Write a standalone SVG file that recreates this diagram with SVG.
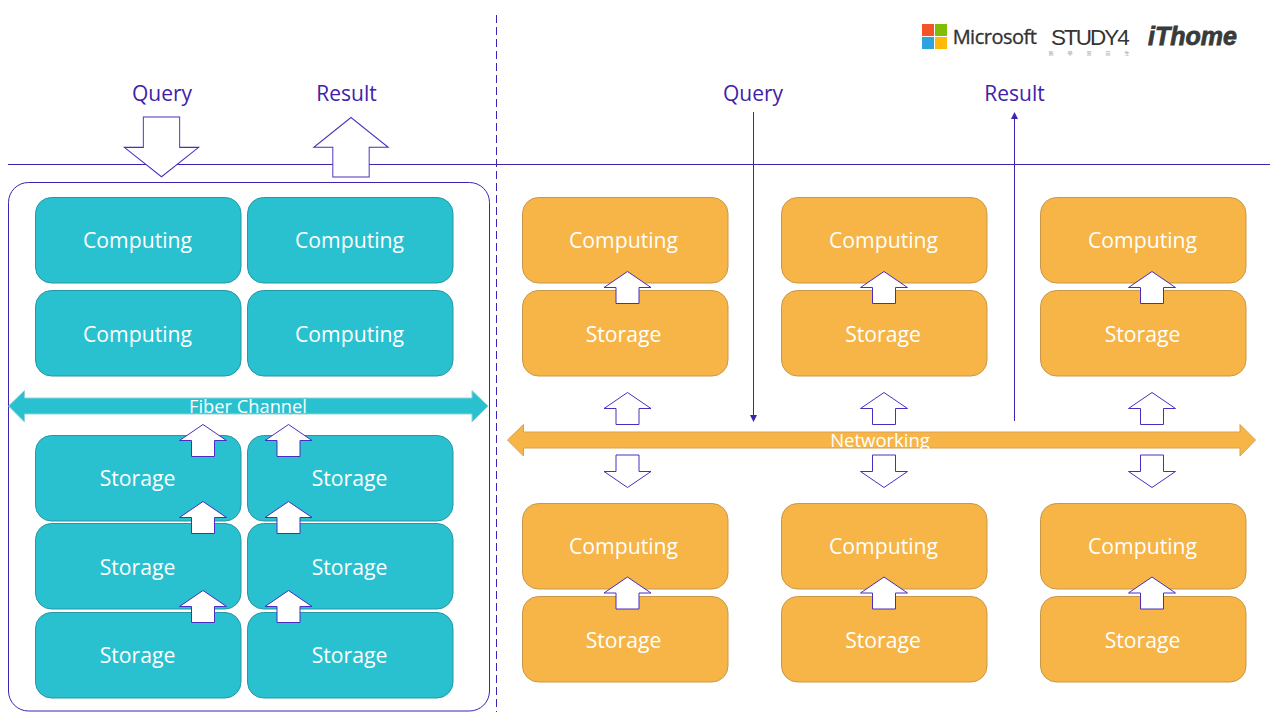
<svg xmlns="http://www.w3.org/2000/svg" width="1280" height="720" viewBox="0 0 1280 720">
<style>
text{font-family:"Open Sans","Noto Sans","Liberation Sans",sans-serif;text-anchor:middle}
.t{fill:#29c1d0;stroke:#2596a3;stroke-width:1}
.o{fill:#f6b546;stroke:#c9974a;stroke-width:1}
.n{fill:#fff;font-size:21.200px}
.h{fill:#3f22a8;font-size:21px}
.l{fill:none;stroke:#3f22b0;stroke-width:1}
.a{fill:#fff;stroke:#4a2cc0;stroke-width:1}
.tb{fill:#29c1d0;stroke:#8fd3da;stroke-width:1}
.ob{fill:#f6b546;stroke:#d9a050;stroke-width:1}
</style>
<defs>
<marker id="ah" markerWidth="8" markerHeight="8" refX="6" refY="3.500" orient="auto" markerUnits="userSpaceOnUse"><path d="M0 0L7 3.500L0 7z" fill="#3f22b0"/></marker>
<path id="up" d="M0 0L23.500 16H11.500V32H-11.500V16H-23.500z"/>
<path id="down" d="M-11.500 0H11.500V16.500H23.500L0 32.500L-23.500 16.500H-11.500z"/>
<rect id="box" x="0" y="0" width="205.500" height="85.500" rx="16" ry="16"/>
</defs>
<g id="connectors">
<line class="l" x1="8" y1="164.500" x2="1270" y2="164.500"/>
<line class="l" x1="496.500" y1="15" x2="496.500" y2="712" stroke-dasharray="8 4"/>
<line class="l" x1="753.500" y1="112" x2="753.500" y2="421" marker-end="url(#ah)"/>
<line class="l" x1="1014.500" y1="421" x2="1014.500" y2="113" marker-end="url(#ah)"/>
</g>
<g id="logos">
<rect x="922" y="24" width="12" height="12" fill="#f35325"/><rect x="935" y="24" width="12" height="12" fill="#81bc06"/>
<rect x="922" y="37" width="12" height="12" fill="#2ea3dd"/><rect x="935" y="37" width="12" height="12" fill="#ffba08"/>
<text x="994.500" y="43.500" style="font-size:20px;letter-spacing:-.5px;font-family:'Open Sans',sans-serif" fill="#333" stroke="#333" stroke-width=".35">Microsoft</text>
<text x="1089.500" y="44.500" style="font-size:22.500px;letter-spacing:-2px;font-family:'Liberation Sans',sans-serif" fill="#333">STUDY4</text>
<text x="1096" y="55" style="font-size:5px;letter-spacing:14px;font-family:'Noto Sans CJK TC',sans-serif" fill="#999">熟學習前生</text>
<text x="1192.500" y="44.500" style="font-size:25px;font-weight:bold;font-style:italic;font-family:'Liberation Sans',sans-serif" fill="#3a3a3a" stroke="#3a3a3a" stroke-width=".8">iThome</text>
</g>
<g id="container"><rect class="l" x="8.500" y="182.500" width="481" height="528.500" rx="20" ry="20"/></g>
<g id="query-left"><text class="h" x="162" y="100.700">Query</text><use href="#down" class="a" transform="translate(161.500 117) scale(1.580 1.840)" style="stroke-width:.6"/></g>
<g id="result-left"><text class="h" x="346.500" y="100.700">Result</text><use href="#up" class="a" transform="translate(351 117.500) scale(1.580 1.860)" style="stroke-width:.6"/></g>
<g id="query-right"><text class="h" x="753" y="100.700">Query</text></g>
<g id="result-right"><text class="h" x="1014.500" y="100.700">Result</text></g>

<g id="t-c1"><use href="#box" class="t" x="35.500" y="197.500"/><text class="n" x="137.500" y="247.700">Computing</text></g>
<g id="t-c2"><use href="#box" class="t" x="247.500" y="197.500"/><text class="n" x="349.500" y="247.700">Computing</text></g>
<g id="t-c3"><use href="#box" class="t" x="35.500" y="290.500"/><text class="n" x="137.500" y="341.700">Computing</text></g>
<g id="t-c4"><use href="#box" class="t" x="247.500" y="290.500"/><text class="n" x="349.500" y="341.700">Computing</text></g>
<g id="t-s1"><use href="#box" class="t" x="35.500" y="435.500"/><text class="n" x="137.500" y="485.700">Storage</text></g>
<g id="t-s2"><use href="#box" class="t" x="247.500" y="435.500"/><text class="n" x="349.500" y="485.700">Storage</text></g>
<g id="t-s3"><use href="#box" class="t" x="35.500" y="523.500"/><text class="n" x="137.500" y="574.700">Storage</text></g>
<g id="t-s4"><use href="#box" class="t" x="247.500" y="523.500"/><text class="n" x="349.500" y="574.700">Storage</text></g>
<g id="t-s5"><use href="#box" class="t" x="35.500" y="612.500"/><text class="n" x="137.500" y="662.700">Storage</text></g>
<g id="t-s6"><use href="#box" class="t" x="247.500" y="612.500"/><text class="n" x="349.500" y="662.700">Storage</text></g>

<g id="fiber"><path class="tb" d="M8.500 406L24.500 390.500V398H472V390.500L488 406L472 422V414H24.500V422z"/><text class="n" style="font-size:18.300px" x="248" y="412.500">Fiber Channel</text></g>

<g id="o-c1"><use href="#box" class="o" x="522.500" y="197.500"/><text class="n" x="623.500" y="247.700">Computing</text></g>
<g id="o-s1"><use href="#box" class="o" x="522.500" y="290.500"/><text class="n" x="623.500" y="341.700">Storage</text></g>
<g id="o-c2"><use href="#box" class="o" x="781.500" y="197.500"/><text class="n" x="883.500" y="247.700">Computing</text></g>
<g id="o-s2"><use href="#box" class="o" x="781.500" y="290.500"/><text class="n" x="883" y="341.700">Storage</text></g>
<g id="o-c3"><use href="#box" class="o" x="1040.500" y="197.500"/><text class="n" x="1142.500" y="247.700">Computing</text></g>
<g id="o-s3"><use href="#box" class="o" x="1040.500" y="290.500"/><text class="n" x="1142.500" y="341.700">Storage</text></g>
<g id="o-c4"><use href="#box" class="o" x="522.500" y="503.500"/><text class="n" x="623.500" y="553.700">Computing</text></g>
<g id="o-s4"><use href="#box" class="o" x="522.500" y="596.500"/><text class="n" x="623.500" y="647.700">Storage</text></g>
<g id="o-c5"><use href="#box" class="o" x="781.500" y="503.500"/><text class="n" x="883.500" y="553.700">Computing</text></g>
<g id="o-s5"><use href="#box" class="o" x="781.500" y="596.500"/><text class="n" x="883" y="647.700">Storage</text></g>
<g id="o-c6"><use href="#box" class="o" x="1040.500" y="503.500"/><text class="n" x="1142.500" y="553.700">Computing</text></g>
<g id="o-s6"><use href="#box" class="o" x="1040.500" y="596.500"/><text class="n" x="1142.500" y="647.700">Storage</text></g>

<g id="network"><path class="ob" d="M507.500 440L523.500 424.500V432H1240V424.500L1255.500 440L1240 456V448H523.500V456z"/><text class="n" style="font-size:18.500px" x="880" y="446.500">Networking</text></g>

<g id="small-arrows">
<use href="#up" class="a" x="203" y="424.500"/><use href="#up" class="a" x="288.500" y="424.500"/>
<use href="#up" class="a" x="203" y="501.500"/><use href="#up" class="a" x="288.500" y="501.500"/>
<use href="#up" class="a" x="203" y="590.500"/><use href="#up" class="a" x="288.500" y="590.500"/>
<use href="#up" class="a" x="627.500" y="271.500"/><use href="#up" class="a" x="884" y="271.500"/><use href="#up" class="a" x="1152" y="271.500"/>
<use href="#up" class="a" x="627.500" y="392.500"/><use href="#up" class="a" x="884" y="392.500"/><use href="#up" class="a" x="1152" y="392.500"/>
<use href="#down" class="a" x="627.500" y="455"/><use href="#down" class="a" x="884" y="455"/><use href="#down" class="a" x="1152" y="455"/>
<use href="#up" class="a" x="627.500" y="577"/><use href="#up" class="a" x="884" y="577"/><use href="#up" class="a" x="1152" y="577"/>
</g>
</svg>
